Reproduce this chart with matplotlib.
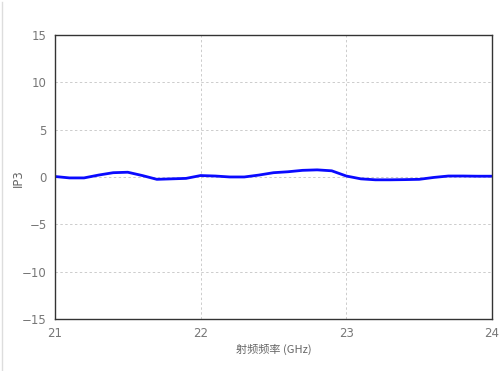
import numpy as np
import matplotlib
matplotlib.use("Agg")
import matplotlib.pyplot as plt
from matplotlib.lines import Line2D

plt.rcParams['font.family'] = ['DejaVu Sans', 'Noto Sans CJK SC']

freq_ghz = [21.0, 21.1, 21.2, 21.3, 21.4, 21.5, 21.6, 21.7, 21.8, 21.9,
            22.0, 22.1, 22.2, 22.3, 22.4, 22.5, 22.6, 22.7, 22.8, 22.9,
            23.0, 23.1, 23.2, 23.3, 23.4, 23.5, 23.6, 23.7, 23.8, 23.9, 24.0]
ip3 = [0.05, -0.1, -0.1, 0.2, 0.45, 0.5, 0.15, -0.25, -0.2, -0.15,
       0.15, 0.1, 0.0, 0.0, 0.2, 0.45, 0.55, 0.7, 0.75, 0.65,
       0.1, -0.2, -0.3, -0.3, -0.28, -0.25, -0.05, 0.1, 0.1, 0.08, 0.08]
x_ticks = [21, 22, 23, 24]
y_ticks = [-15, -10, -5, 0, 5, 10, 15]

fig = plt.figure(figsize=(4.99, 3.71), dpi=100)
ax = fig.add_axes([0.110, 0.140, 0.876, 0.766])

ax.plot(freq_ghz, ip3, color='#0a0aff', linewidth=2.0, solid_joinstyle='round')

ax.set_xlim(21, 24)
ax.set_ylim(-15, 15)
ax.set_xticks(x_ticks)
ax.set_yticks(y_ticks)
ax.set_xticklabels([str(t) for t in x_ticks])
ax.set_yticklabels(['\u2212' + str(-t) if t < 0 else str(t) for t in y_ticks])
ax.tick_params(length=0, colors='#777777', labelsize=8.5, pad=6)
ax.grid(True, color='#cccccc', linestyle=(0, (2.5, 2.5)), linewidth=0.7)
for s in ax.spines.values():
    s.set_color('#333333')
    s.set_linewidth(1.0)

ax.set_xlabel('射频频率 (GHz)', color='#666666', fontsize=8,
              family=['Noto Sans CJK SC', 'DejaVu Sans'])
ax.xaxis.set_label_coords(274 / 499, 1 - 349 / 371, transform=fig.transFigure)
ax.xaxis.label.set_va('center')
ax.set_ylabel('IP3', color='#666666', fontsize=8.5)
ax.yaxis.set_label_coords(18 / 499, 1 - 178 / 371, transform=fig.transFigure)
ax.yaxis.label.set_va('center')

fig.add_artist(Line2D([0.005, 0.005], [0.003, 0.995], color='#dddddd', linewidth=1.0,
                      transform=fig.transFigure))

fig.savefig('out.png', dpi=100)
